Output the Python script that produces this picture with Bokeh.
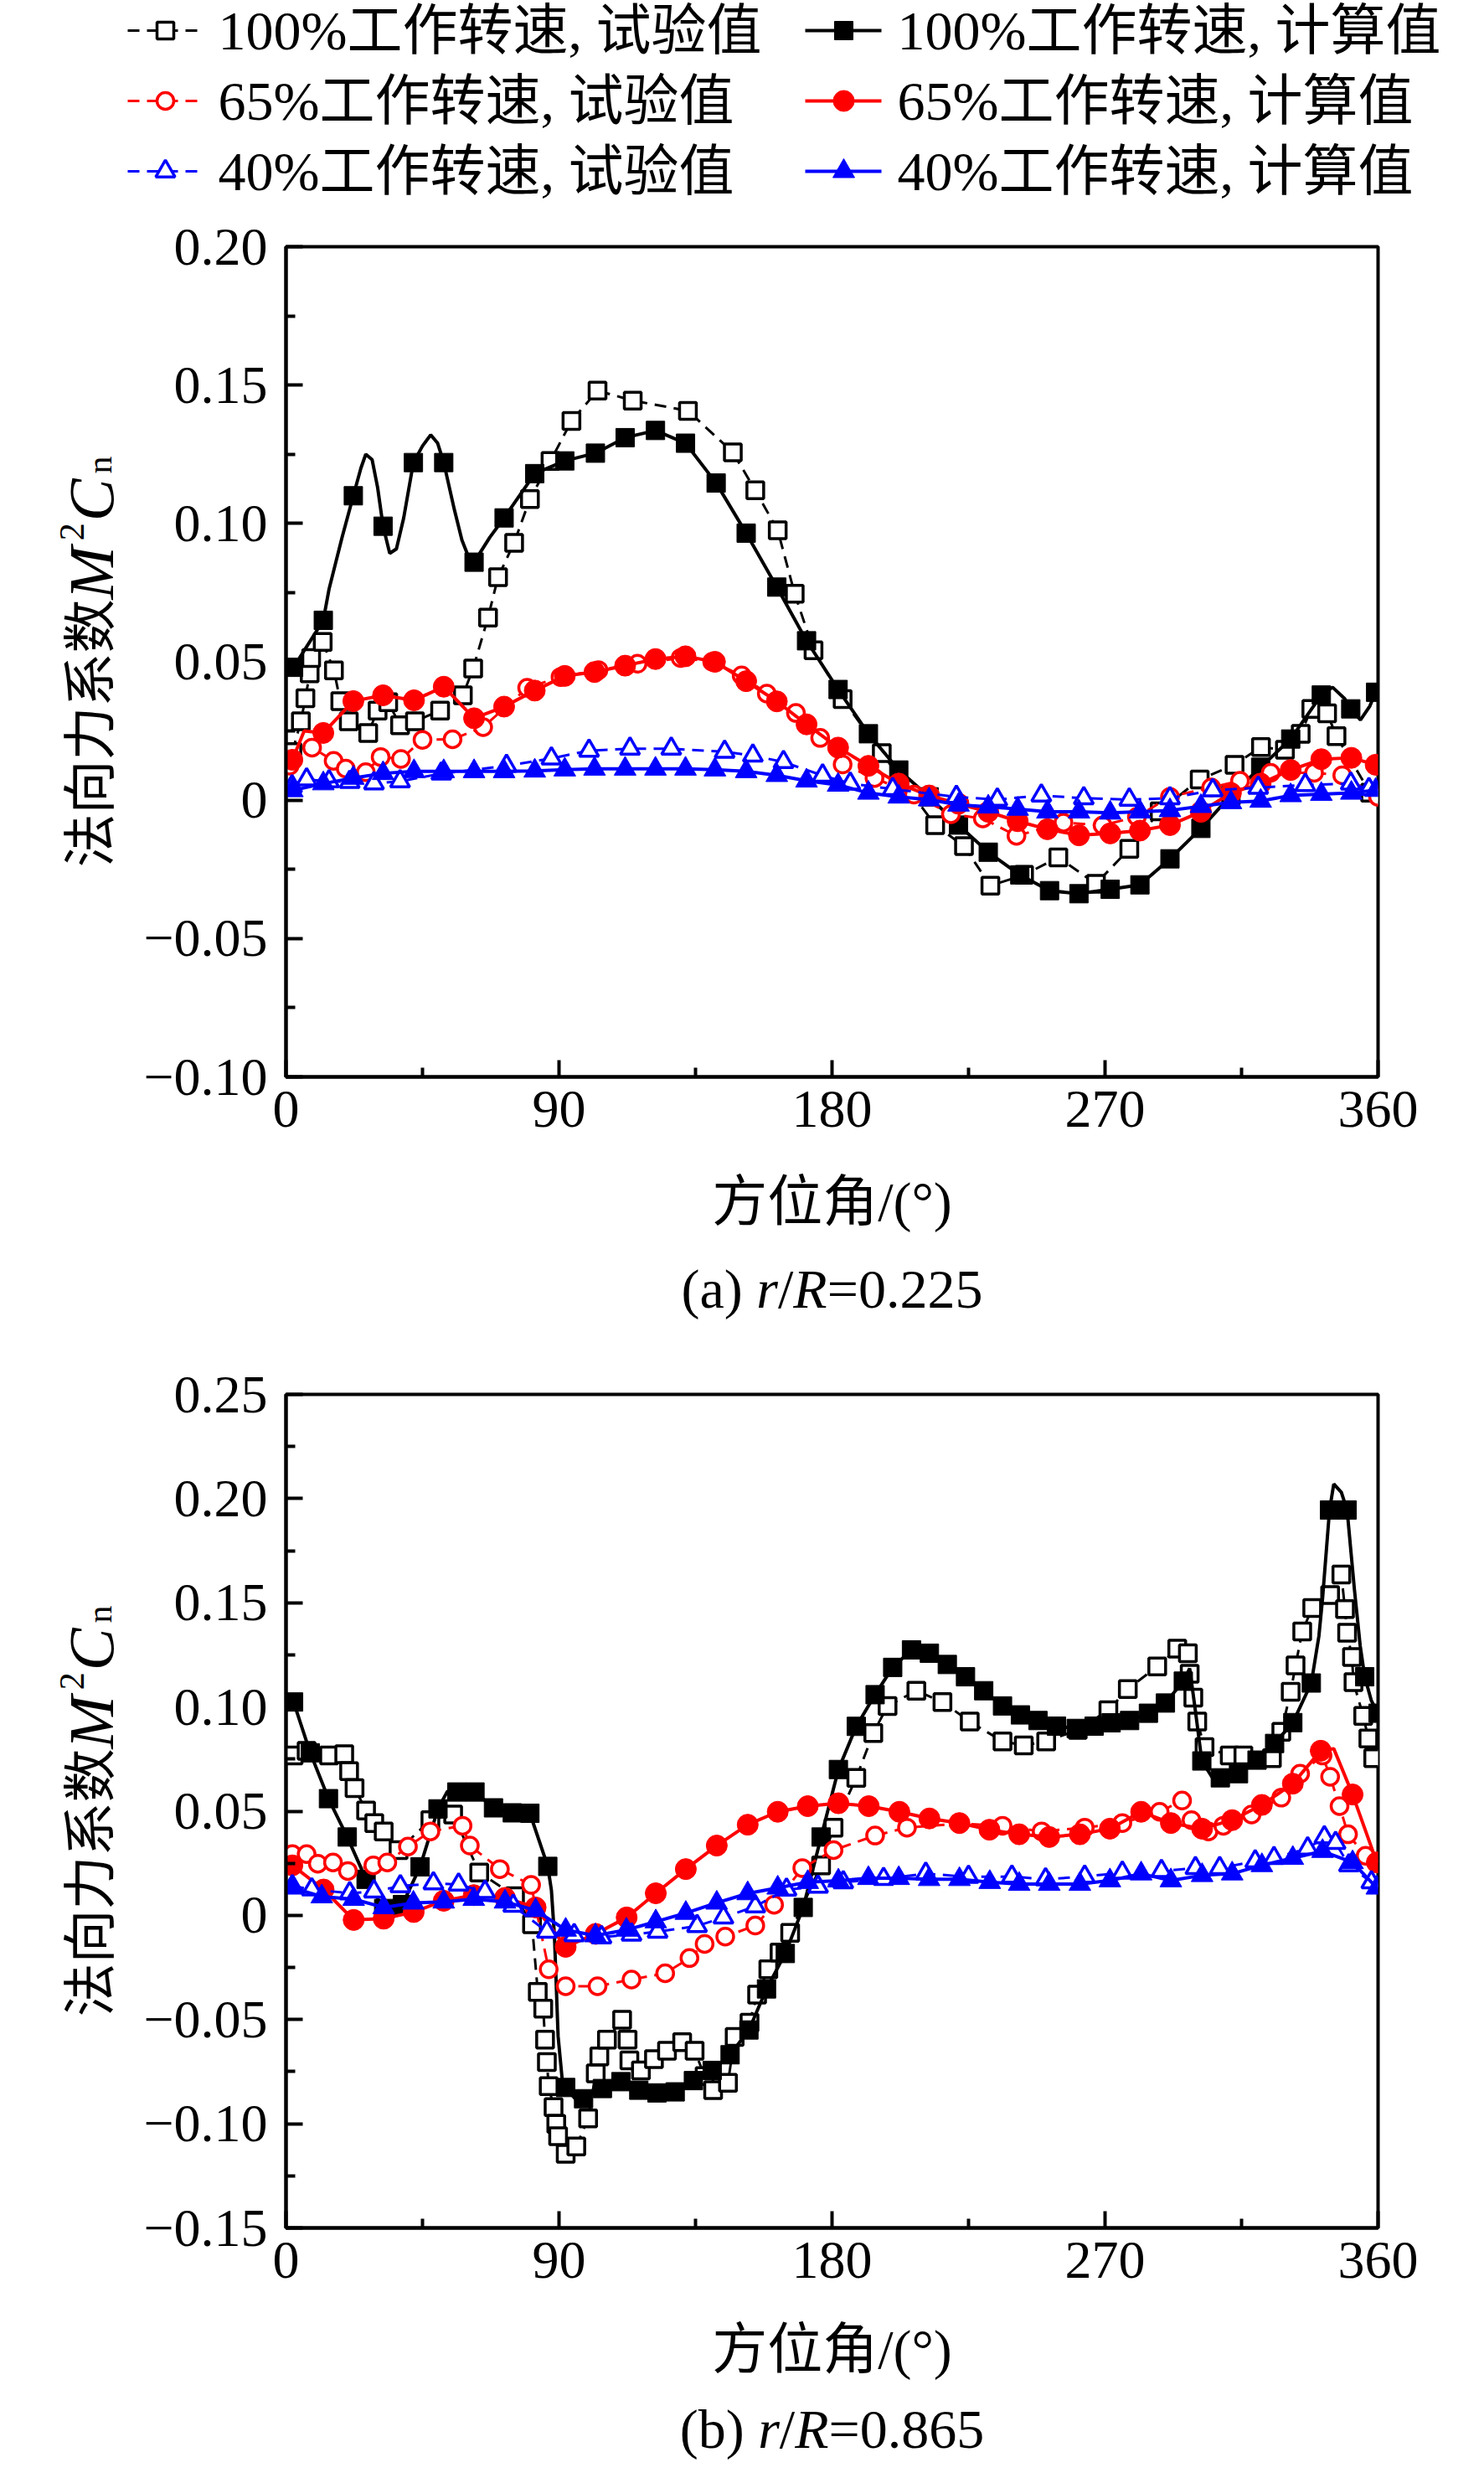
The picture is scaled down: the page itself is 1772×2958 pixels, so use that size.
import numpy as np
from bokeh.plotting import figure
from bokeh.models import Range1d, FixedTicker, CustomJSTickFormatter
from bokeh.layouts import column, row
from bokeh.core.properties import value
from bokeh.embed import file_html
from bokeh.resources import INLINE

FONT = "Liberation Serif, Noto Sans CJK SC"

# ------------------------------------------------------------------ data
legend_exp_labels = ["100%工作转速, 试验值", "65%工作转速, 试验值", "40%工作转速, 试验值"]
legend_calc_labels = ["100%工作转速, 计算值", "65%工作转速, 计算值", "40%工作转速, 计算值"]
x_title = "方位角/(°)"
y_title_parts = ["法向力系数", "M", "2", "C", "n"]

x_ticks = [0, 90, 180, 270, 360]
x_minor = [45, 135, 225, 315]
a_y_ticks = [-0.10, -0.05, 0.0, 0.05, 0.10, 0.15, 0.20]
a_y_minor = [-0.075, -0.025, 0.025, 0.075, 0.125, 0.175]
b_y_ticks = [-0.15, -0.10, -0.05, 0.0, 0.05, 0.10, 0.15, 0.20, 0.25]
b_y_minor = [-0.125, -0.075, -0.025, 0.025, 0.075, 0.125, 0.175, 0.225]

# ---- (a) r/R = 0.225
a_x100_exp = [2.1, 4.9, 6.4, 7.8, 8.3, 12.1, 15.8, 17.9, 20.7, 27.1, 30.2, 33.7, 37.6, 42.5, 50.8, 58.3, 61.7,
              66.6, 69.9, 75.2, 80.4, 87.2, 94.1, 102.7, 114.3, 132.5, 147.3, 154.7, 162.1, 167.7, 173.9, 183.5,
              196.4, 214.0, 223.5, 232.2, 243.3, 254.6, 267.0, 278.0, 288.0, 301.2, 312.7, 321.4, 329.3, 334.5,
              338.0, 343.2, 346.3, 357.4]
a_y100_exp = [0.0174, 0.0285, 0.0368, 0.0458, 0.0514, 0.0572, 0.0469, 0.0358, 0.0285, 0.0243, 0.0324, 0.0354,
              0.0271, 0.0285, 0.0324, 0.0379, 0.0476, 0.0660, 0.0806, 0.0930, 0.1088, 0.1226, 0.1370, 0.1480,
              0.1444, 0.1407, 0.1257, 0.1120, 0.0975, 0.0746, 0.0542, 0.0365, 0.0170, -0.0090, -0.0166, -0.0309,
              -0.0270, -0.0207, -0.0302, -0.0176, -0.0040, 0.0075, 0.0128, 0.0192, 0.0182, 0.0240, 0.0330, 0.0314,
              0.0231, 0.0027]
a_x100_calc = [2.5, 12.3, 22.2, 32.0, 42.0, 52.0, 62.0, 71.9, 82.0, 91.9, 102.0, 111.8, 121.8, 131.7, 141.8,
               151.7, 161.8, 171.6, 182.0, 192.0, 202.0, 212.0, 221.7, 231.5, 241.9, 251.7, 261.4, 271.7, 281.5,
               291.4, 301.6, 311.5, 321.3, 331.2, 341.3, 351.0, 359.2]
a_y100_calc = [0.048, 0.065, 0.110, 0.099, 0.122, 0.122, 0.086, 0.102, 0.118, 0.1226, 0.1254, 0.131, 0.1336,
               0.129, 0.1146, 0.0965, 0.077, 0.0576, 0.040, 0.024, 0.0109, 0.0012, -0.009, -0.0188, -0.027,
               -0.0327, -0.0338, -0.0322, -0.0306, -0.0212, -0.0102, 0.0017, 0.0119, 0.0221, 0.038, 0.033, 0.039]
a_x100_curve = [14.2, 18.5, 24.7, 26.3, 28.4, 30.2, 34.2, 36.4, 38.8, 45.0, 47.7, 50.0, 55.5, 58.0, 60.5, 67.2,
                345.0, 349.0, 354.2, 357.3]
a_y100_curve = [0.0763, 0.095, 0.120, 0.125, 0.123, 0.113, 0.0892, 0.0908, 0.102, 0.128, 0.132, 0.129, 0.105,
                0.094, 0.087, 0.095, 0.0408, 0.0367, 0.029, 0.034]

a_x65_exp = [1.2, 8.6, 15.7, 19.7, 26.3, 31.2, 37.9, 45.0, 54.9, 65.0, 79.5, 90.5, 103.0, 115.9, 130.1, 140.5,
             150.2, 158.5, 168.1, 176.1, 183.5, 194.0, 207.0, 219.2, 229.7, 240.8, 256.3, 269.2, 280.5, 291.4,
             305.0, 314.5, 324.6, 338.9, 348.2, 360.0]
a_y65_exp = [0.0125, 0.019, 0.0142, 0.0114, 0.0101, 0.0156, 0.0149, 0.0218, 0.022, 0.0264, 0.0406, 0.0445,
             0.047, 0.0493, 0.0514, 0.050, 0.0451, 0.0385, 0.0315, 0.0225, 0.0129, 0.008, 0.002, -0.0051, -0.0066,
             -0.0129, -0.0081, -0.0091, -0.006, 0.0012, 0.0046, 0.007, 0.0099, 0.0099, 0.009, 0.0012]
a_x65_calc = [2.1, 12.3, 22.2, 32.0, 42.2, 52.0, 62.0, 71.9, 82.0, 91.9, 101.7, 111.8, 121.8, 131.7, 141.4,
              151.7, 161.8, 171.6, 182.0, 192.0, 202.0, 212.0, 221.7, 231.5, 241.2, 251.0, 261.4, 271.7, 281.5,
              291.4, 301.6, 311.5, 321.3, 331.2, 341.3, 351.2, 359.2]
a_y65_calc = [0.0146, 0.0243, 0.0358, 0.0379, 0.0361, 0.041, 0.0296, 0.0338, 0.0396, 0.0449, 0.0463, 0.0486,
              0.051, 0.052, 0.050, 0.043, 0.0357, 0.0274, 0.019, 0.0124, 0.006, 0.0017, -0.0013, -0.0042, -0.0076,
              -0.0105, -0.0127, -0.012, -0.011, -0.009, -0.0042, 0.0026, 0.006, 0.0109, 0.0148, 0.0153, 0.0128]
a_x65_curve = [6.0]
a_y65_curve = [0.025]

a_x40_exp = [2.0, 6.8, 14.2, 21.0, 29.0, 37.6, 51.2, 72.7, 87.5, 99.9, 113.4, 127.0, 144.6, 153.9, 164.0, 176.9,
             186.0, 200.0, 221.0, 234.5, 249.0, 263.0, 278.0, 291.4, 305.5, 320.5, 336.0, 351.0, 357.0]
a_y40_exp = [0.005, 0.0075, 0.0068, 0.0066, 0.0061, 0.0068, 0.0096, 0.0124, 0.0151, 0.0179, 0.0186, 0.0186,
             0.0175, 0.0161, 0.0138, 0.0089, 0.006, 0.004, 0.0012, 0.0002, 0.0017, 0.0007, 0.0002, 0.0007,
             0.0036, 0.0045, 0.0055, 0.006, 0.004]
a_x40_calc = [2.1, 12.3, 22.2, 32.0, 42.2, 52.0, 62.0, 71.9, 82.0, 91.9, 101.7, 111.8, 121.8, 131.7, 141.4,
              151.7, 161.8, 171.6, 182.0, 192.0, 202.0, 212.0, 221.7, 231.5, 241.2, 251.0, 261.4, 271.7, 281.5,
              291.4, 301.6, 311.5, 321.3, 331.2, 341.3, 351.2, 359.2]
a_y40_calc = [0.0035, 0.006, 0.008, 0.0097, 0.0104, 0.0104, 0.0104, 0.0104, 0.0106, 0.011, 0.0113, 0.0113,
              0.0113, 0.0113, 0.011, 0.0104, 0.009, 0.007, 0.0055, 0.0026, 0.0012, 0.0002, -0.0017, -0.0024,
              -0.0032, -0.0042, -0.0042, -0.0046, -0.0042, -0.0037, -0.0022, -0.0008, -0.0003, 0.0017, 0.0022,
              0.0026, 0.0036]
a_x40_curve = []
a_y40_curve = []

# ---- (b) r/R = 0.865
b_x100_exp = [2.5, 6.8, 14.2, 19.2, 20.8, 22.6, 26.4, 29.1, 32.2, 37.1, 47.6, 55.1, 63.7, 75.5, 81.1, 83.0,
              84.8, 85.4, 86.0, 86.6, 88.2, 89.1, 89.7, 92.2, 95.7, 99.6, 102.1, 103.3, 105.8, 110.8, 112.6,
              113.2, 117.0, 121.3, 125.6, 130.6, 134.7, 138.0, 140.8, 145.7, 147.9, 152.8, 155.3, 159.0, 162.7,
              166.2, 176.4, 180.5, 188.0, 193.6, 198.3, 207.8, 216.4, 225.4, 236.2, 243.2, 250.6, 261.0, 271.1,
              277.5, 287.2, 293.8, 297.3, 297.9, 299.1, 300.4, 302.8, 311.1, 315.6, 325.0, 328.1, 331.2, 332.8,
              335.0, 338.3, 344.2, 347.9, 349.1, 349.8, 351.4, 351.9, 355.1, 356.8, 358.4]
b_y100_exp = [0.0767, 0.0789, 0.0767, 0.0773, 0.0692, 0.0611, 0.0503, 0.0443, 0.0403, 0.0313, 0.0457, 0.0484,
              0.0206, 0.0092, -0.0043, -0.0367, -0.0448, -0.0596, -0.0704, -0.082, -0.092, -0.100, -0.106,
              -0.1144, -0.1109, -0.0974, -0.0758, -0.0677, -0.0596, -0.0501, -0.0596, -0.0696, -0.0744, -0.069,
              -0.065, -0.0609, -0.065, -0.0771, -0.0839, -0.0804, -0.0583, -0.0515, -0.038, -0.0259, -0.0178,
              -0.0084, 0.024, 0.0421, 0.066, 0.0875, 0.1005, 0.1078, 0.1024, 0.093, 0.0835, 0.0816, 0.0835, 0.089,
              0.0984, 0.1086, 0.1194, 0.128, 0.1258, 0.1159, 0.1045, 0.093, 0.0808, 0.0767, 0.0767, 0.0754,
              0.0881, 0.1073, 0.120, 0.1362, 0.1475, 0.1537, 0.1636, 0.147, 0.1356, 0.124, 0.1119, 0.0957, 0.0849,
              0.0754]
b_x100_calc = [2.5, 8.0, 14.0, 20.2, 26.4, 32.2, 38.4, 44.2, 50.1, 56.3, 62.3, 68.4, 74.6, 80.4, 86.3, 92.2,
               98.1, 104.3, 110.4, 116.3, 122.3, 128.3, 134.3, 140.5, 146.4, 152.6, 158.4, 164.6, 170.5, 176.4,
               182.1, 188.0, 194.2, 200.0, 206.2, 212.1, 218.0, 224.0, 230.0, 236.2, 242.1, 247.9, 254.0, 260.5,
               266.4, 272.0, 278.1, 284.3, 289.9, 295.8, 301.9, 308.0, 314.0, 320.1, 325.9, 331.9, 338.0, 344.0,
               349.8, 355.6, 360.0]
b_y100_calc = [0.1024, 0.078, 0.056, 0.0376, 0.0173, 0.0033, 0.0052, 0.0233, 0.0511, 0.0592, 0.0592, 0.0516,
               0.0492, 0.049, 0.0235, -0.0826, -0.088, -0.0831, -0.0798, -0.0839, -0.0852, -0.0847, -0.0793,
               -0.0744, -0.0669, -0.055, -0.0353, -0.0183, 0.0038, 0.0376, 0.070, 0.0907, 0.1059, 0.119, 0.1274,
               0.1258, 0.1204, 0.1145, 0.1078, 0.1005, 0.0962, 0.0935, 0.0908, 0.0897, 0.0908, 0.0924, 0.0935,
               0.097, 0.1019, 0.1124, 0.0741, 0.066, 0.068, 0.0745, 0.0825, 0.0925, 0.1115, 0.1945, 0.1945, 0.1145,
               0.0970]
b_x100_curve = [35.3, 53.2, 87.5, 88.5, 89.7, 91.0, 95.9, 297.9, 299.8, 306.5, 340.5, 341.7, 345.4, 347.9,
                352.2, 354.1, 357.8]
b_y100_curve = [-0.001, 0.0595, 0.012, -0.010, -0.058, -0.078, -0.089, 0.1185, 0.098, 0.0635, 0.134, 0.152,
                0.207, 0.203, 0.1565, 0.1295, 0.103]

b_x65_exp = [2.1, 6.8, 10.5, 15.5, 20.4, 28.8, 33.4, 40.2, 47.6, 58.2, 60.6, 70.5, 80.8, 86.6, 92.2, 102.7,
             113.9, 125.0, 133.0, 138.0, 144.8, 154.7, 160.9, 170.2, 180.5, 194.2, 204.7, 222.0, 236.2, 249.1,
             263.3, 275.7, 288.0, 295.4, 298.5, 304.1, 309.0, 318.3, 328.1, 334.3, 341.7, 344.2, 347.3, 350.1,
             355.9]
b_y65_exp = [0.0294, 0.0294, 0.0248, 0.0254, 0.0213, 0.024, 0.0254, 0.033, 0.0403, 0.043, 0.0335, 0.0222,
             0.0146, -0.0259, -0.034, -0.034, -0.0308, -0.0278, -0.0205, -0.0137, -0.0102, -0.0049, 0.0051,
             0.0227, 0.0313, 0.0383, 0.0421, 0.044, 0.043, 0.0403, 0.0421, 0.0443, 0.0497, 0.0551, 0.0457,
             0.0403, 0.043, 0.0484, 0.0565, 0.068, 0.0767, 0.0665, 0.0524, 0.0389, 0.0286]
b_x65_calc = [2.1, 12.4, 22.3, 32.2, 42.1, 52.0, 61.9, 72.2, 82.3, 92.2, 102.1, 112.3, 121.9, 131.8, 142.0,
              152.2, 162.1, 172.0, 182.1, 192.1, 202.2, 212.1, 222.0, 231.9, 241.7, 251.6, 261.7, 271.6, 281.9,
              291.7, 302.0, 311.9, 321.7, 331.9, 341.1, 351.6, 359.6]
b_y65_calc = [0.024, 0.0124, -0.0022, -0.0016, 0.0016, 0.007, 0.0097, 0.0084, 0.0038, -0.0151, -0.0089, -0.001,
              0.0106, 0.0222, 0.0335, 0.0435, 0.0497, 0.0524, 0.0538, 0.0524, 0.0497, 0.0465, 0.0443, 0.0411,
              0.0389, 0.0376, 0.0389, 0.0416, 0.0497, 0.0443, 0.0416, 0.0457, 0.053, 0.0632, 0.079, 0.058, 0.0254]
b_x65_curve = [345.4]
b_y65_curve = [0.080]

b_x40_exp = [2.1, 8.5, 21.0, 29.0, 37.7, 48.6, 56.9, 65.6, 74.9, 86.0, 95.0, 104.0, 113.9, 122.5, 135.5, 144.2,
             154.7, 165.0, 175.4, 183.7, 197.0, 210.9, 225.0, 239.3, 250.4, 263.3, 275.7, 288.6, 299.8, 307.8,
             319.5, 325.7, 336.8, 342.3, 346.0, 350.4, 357.8]
b_y40_exp = [0.014, 0.0125, 0.0106, 0.0115, 0.014, 0.0154, 0.0148, 0.0113, 0.0046, -0.0078, -0.0095, -0.0105,
             -0.0092, -0.0078, -0.0051, -0.001, 0.0043, 0.0124, 0.0138, 0.0159, 0.0175, 0.020, 0.0185, 0.0186,
             0.0173, 0.0186, 0.0205, 0.0213, 0.0227, 0.0227, 0.0259, 0.0275, 0.0321, 0.0375, 0.0348, 0.024, 0.0159]
b_x40_calc = [2.1, 11.8, 22.3, 32.2, 42.0, 52.0, 61.9, 72.2, 82.3, 92.2, 102.0, 112.2, 121.9, 131.8, 142.0,
              152.2, 162.1, 172.0, 182.1, 192.0, 202.0, 212.0, 222.0, 232.0, 241.7, 251.6, 261.7, 271.6, 281.9,
              291.7, 302.0, 311.9, 321.7, 331.9, 341.7, 351.6, 359.6]
b_y40_calc = [0.0132, 0.009, 0.0078, 0.0038, 0.006, 0.0065, 0.0078, 0.0065, 0.0024, -0.007, -0.0097, -0.007,
              -0.003, 0.0011, 0.006, 0.0105, 0.0132, 0.0159, 0.0166, 0.0178, 0.0178, 0.0173, 0.0173, 0.0159, 0.015,
              0.015, 0.015, 0.0167, 0.020, 0.0167, 0.0192, 0.020, 0.024, 0.0275, 0.0308, 0.0254, 0.0132]
b_x40_curve = []
b_y40_curve = []

# ------------------------------------------------------------------ styles / layout constants
STY = {
    "100": dict(color="#000000", marker="square", exp_size=20, calc_size=22),
    "65": dict(color="#ff0000", marker="circle", exp_size=20, calc_size=25),
    "40": dict(color="#0000ff", marker="triangle", exp_size=23, calc_size=26),
}
KEYS = ["100", "65", "40"]
DASH = "14 9"

PAGE_W = 1756
YLAB_W = 150
FRAME_W = 1304
LEFT_B, RIGHT_B = 191, 111          # YLAB_W + LEFT_B + FRAME_W + RIGHT_B = PAGE_W
FRAME_CX = YLAB_W + LEFT_B + FRAME_W / 2.0


def no_align(p):
    if "frame_align" in p.properties():
        p.frame_align = False


def strip(width, height, flip=False):
    yr = Range1d(height, 0) if flip else Range1d(0, height)
    p = figure(frame_width=width, frame_height=height, x_range=Range1d(0, width), y_range=yr,
               x_axis_location=None, y_axis_location=None, output_backend="svg", toolbar_location=None,
               min_border_left=0, min_border_right=0, min_border_top=0, min_border_bottom=0,
               outline_line_color=None, background_fill_color="white", border_fill_color="white")
    p.grid.visible = False
    no_align(p)
    return p


def make_panel(series, y0, y1, yt, ym, frame_h, top_b, bot_b, title_standoff):
    p = figure(frame_width=FRAME_W, frame_height=frame_h, x_range=Range1d(0, 360), y_range=Range1d(y0, y1),
               output_backend="svg", toolbar_location=None, min_border_left=LEFT_B,
               min_border_right=RIGHT_B, min_border_top=top_b, min_border_bottom=bot_b,
               background_fill_color="white", border_fill_color="white")
    p.grid.visible = False
    p.outline_line_color = "black"
    p.outline_line_width = 4
    p.outline_line_alpha = 1.0

    p.xaxis.ticker = FixedTicker(ticks=x_ticks, minor_ticks=x_minor)
    p.yaxis.ticker = FixedTicker(ticks=yt, minor_ticks=ym)
    p.xaxis.formatter = CustomJSTickFormatter(code="return tick.toFixed(0);")
    p.yaxis.formatter = CustomJSTickFormatter(code="""
        if (Math.abs(tick) < 1e-9) { return "0"; }
        return (tick < 0 ? "\u2212" : "") + Math.abs(tick).toFixed(2);
    """)
    for ax in (p.xaxis[0], p.yaxis[0]):
        ax.axis_line_width = 4
        ax.axis_line_color = "black"
        ax.major_tick_line_width = 4
        ax.minor_tick_line_width = 4
        ax.major_tick_line_color = "black"
        ax.minor_tick_line_color = "black"
        ax.major_tick_in = 20
        ax.major_tick_out = 0
        ax.minor_tick_in = 11
        ax.minor_tick_out = 0
        ax.major_label_text_font = "Liberation Serif"
        ax.major_label_text_font_size = "64px"
        ax.major_label_text_color = "black"
    p.xaxis.major_label_standoff = 17
    p.yaxis.major_label_standoff = 22
    # x-axis title
    p.xaxis.axis_label = x_title
    p.xaxis.axis_label_text_font = FONT
    p.xaxis.axis_label_text_font_size = "66px"
    p.xaxis.axis_label_text_font_style = "normal"
    p.xaxis.axis_label_text_color = "black"
    p.xaxis.axis_label_standoff = title_standoff

    for key in KEYS:
        ex, ey, cx, cy, kx, ky = series[key]
        st = STY[key]
        c = st["color"]
        p.line(ex, ey, line_color=c, line_width=3, line_dash=DASH)
        p.scatter(ex, ey, marker=st["marker"], size=st["exp_size"], fill_color="white",
                  line_color=c, line_width=3.5)
        lx = np.array(list(cx) + list(kx))
        ly = np.array(list(cy) + list(ky))
        order = np.argsort(lx, kind="stable")
        p.line(lx[order], ly[order], line_color=c, line_width=4)
        p.scatter(cx, cy, marker=st["marker"], size=st["calc_size"], fill_color=c, line_color=c,
                  line_width=1)
    return p


def make_ylabel(height, frame_top, frame_h):
    """Rotated y title 法向力系数 M^2 C_n drawn as text pieces in a narrow strip."""
    s = strip(YLAB_W, height)
    # (text, style, size px, baseline x, advance along the text incl. small gap)
    pieces = [(y_title_parts[0], "normal", 64, 108, 320.0),
              (y_title_parts[1], "italic", 76, 108, 63.3 + 7.0),
              (y_title_parts[2], "normal", 42, 85, 21.0 + 2.0),
              (y_title_parts[3], "italic", 76, 108, 50.7 + 6.0),
              (y_title_parts[4], "normal", 42, 118, 21.0)]
    total = sum(pc[4] for pc in pieces)
    center_from_top = frame_top + frame_h / 2.0
    pos = (height - center_from_top) - total / 2.0
    for t, style, size, bx, w in pieces:
        s.text(x=[bx], y=[pos], text=[t], angle=np.pi / 2, text_font=value(FONT),
               text_font_size=value(f"{size}px"), text_font_style=style, text_align="left",
               text_baseline="alphabetic", text_color="black")
        pos += w
    return s


def make_caption(height, cap_y, prefix, cap_val):
    s = strip(PAGE_W, height, flip=True)
    em = {prefix: 1.36 if prefix == "(a) " else 1.416, "r": 0.389, "/": 0.278, "R": 0.611,
          "=" + cap_val: 2.814}
    pieces = [(prefix, "normal"), ("r", "italic"), ("/", "normal"), ("R", "italic"), ("=" + cap_val, "normal")]
    widths = [em[t] * 66 for t, _ in pieces]
    x = FRAME_CX - sum(widths) / 2.0
    for (t, style), w in zip(pieces, widths):
        s.text(x=[x], y=[cap_y], text=[t], text_font=value(FONT), text_font_size=value("66px"),
               text_font_style=style, text_align="left", text_baseline="middle", text_color="black")
        x += w
    return s


# ------------------------------------------------------------------ legend strip
LEG_H = 250
leg = strip(PAGE_W, LEG_H, flip=True)
rows_y = [36, 120, 204]
for i, key in enumerate(KEYS):
    st = STY[key]
    c = st["color"]
    yy = rows_y[i]
    leg.line([152, 242], [yy, yy], line_color=c, line_width=3, line_dash=DASH)
    leg.scatter([197], [yy], marker=st["marker"], size=st["exp_size"], fill_color="white", line_color=c,
                line_width=3.5)
    leg.line([961, 1052], [yy, yy], line_color=c, line_width=4)
    leg.scatter([1007], [yy], marker=st["marker"], size=st["calc_size"], fill_color=c, line_color=c)
leg.text(x=[260] * 3, y=rows_y, text=legend_exp_labels, text_font=value(FONT), text_font_size=value("66px"),
         text_baseline="middle", text_align="left", text_color="black")
leg.text(x=[1071] * 3, y=rows_y, text=legend_calc_labels, text_font=value(FONT), text_font_size=value("66px"),
         text_baseline="middle", text_align="left", text_color="black")

# ------------------------------------------------------------------ panels
series_a = {
    "100": (a_x100_exp, a_y100_exp, a_x100_calc, a_y100_calc, a_x100_curve, a_y100_curve),
    "65": (a_x65_exp, a_y65_exp, a_x65_calc, a_y65_calc, a_x65_curve, a_y65_curve),
    "40": (a_x40_exp, a_y40_exp, a_x40_calc, a_y40_calc, a_x40_curve, a_y40_curve),
}
series_b = {
    "100": (b_x100_exp, b_y100_exp, b_x100_calc, b_y100_calc, b_x100_curve, b_y100_curve),
    "65": (b_x65_exp, b_y65_exp, b_x65_calc, b_y65_calc, b_x65_curve, b_y65_curve),
    "40": (b_x40_exp, b_y40_exp, b_x40_calc, b_y40_calc, b_x40_curve, b_y40_curve),
}

TOP_A, FH_A, BOT_A = 44, 991, 197
TOP_B, FH_B, BOT_B = 54, 995, 191
pa = make_panel(series_a, -0.10, 0.20, a_y_ticks, a_y_minor, FH_A, TOP_A, BOT_A, 50)
pb = make_panel(series_b, -0.15, 0.25, b_y_ticks, b_y_minor, FH_B, TOP_B, BOT_B, 46)
ya = make_ylabel(TOP_A + FH_A + BOT_A, TOP_A, FH_A)
yb = make_ylabel(TOP_B + FH_B + BOT_B, TOP_B, FH_B)
ca = make_caption(128, 56, "(a) ", "0.225")
cb = make_caption(92, 49, "(b) ", "0.865")

layout = column(leg, row(ya, pa, spacing=0), ca, row(yb, pb, spacing=0), cb, spacing=0)
open("out.html", "w").write(file_html(layout, INLINE))
